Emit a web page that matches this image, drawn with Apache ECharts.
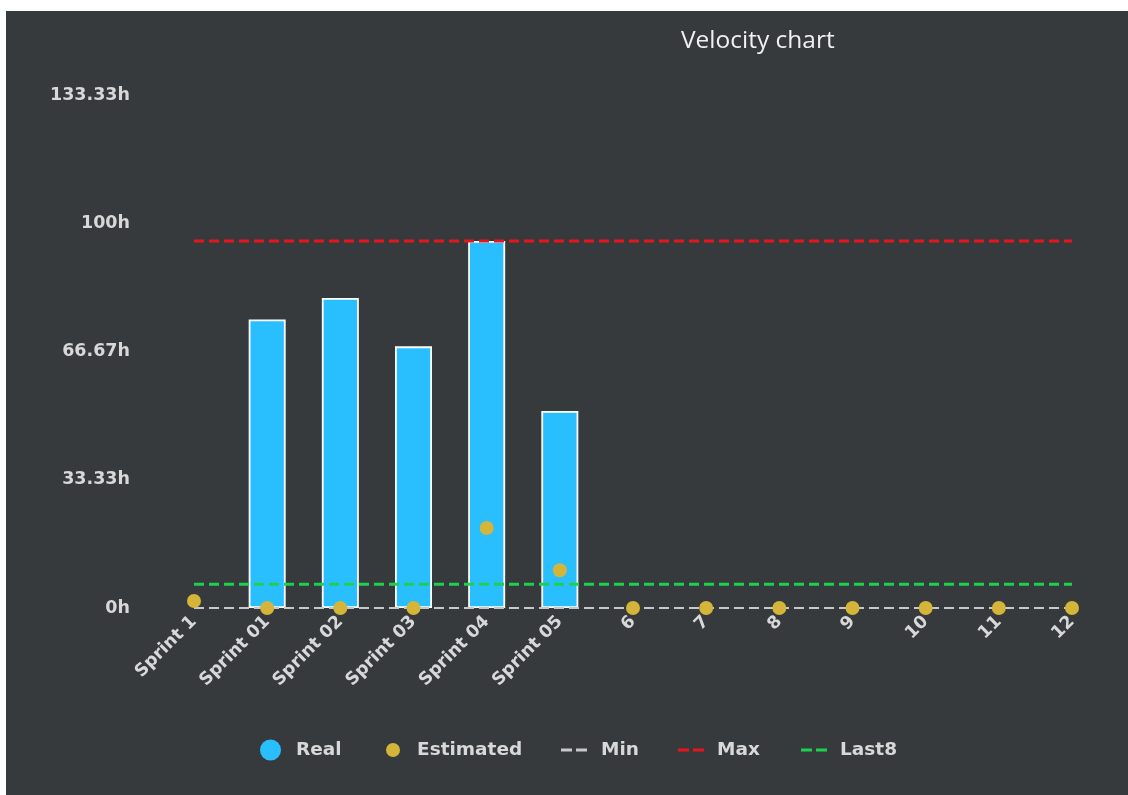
<!DOCTYPE html>
<html>
<head>
<meta charset="utf-8">
<script src="https://cdn.jsdelivr.net/npm/echarts@6/dist/echarts.min.js"></script>
<style>
  html, body { margin: 0; padding: 0; background: #ffffff; }
  #chart { position: absolute; left: 6px; top: 11px; width: 1122px; height: 784px; background: #363a3d; }
</style>
</head>
<body>
<div id="chart"></div>
<script>
const categories = ['Sprint 1', 'Sprint 01', 'Sprint 02', 'Sprint 03', 'Sprint 04', 'Sprint 05', '6', '7', '8', '9', '10', '11', '12'];
const realValues = [null, 75.0, 80.6, 68.0, 95.4, 51.2, null, null, null, null, null, null, null];
const estimatedValues = [1.8, 0, 0, 0, 20.8, 9.8, 0, 0, 0, 0, 0, 0, 0];
const minValue = 0;
const maxValue = 95.4;
const last8Value = 6.2;
const yTickLabels = ['0h', '33.33h', '66.67h', '100h', '133.33h'];
const yStep = 100 / 3;

const axisFont = { color: '#d8d8d8', fontFamily: 'DejaVu Sans', fontWeight: 'bold', fontSize: 17.5 };
const legendFont = { color: '#d8d8d8', fontFamily: 'DejaVu Sans', fontWeight: 'bold', fontSize: 18.5, lineHeight: 22 };
const dashIcon = 'path://M0,0h11v3h-11z M15,0h11v3h-11z';

function legendAt(name, left, extra, pad) {
  return Object.assign({
    data: [name], left: left, top: 728, padding: 0, selectedMode: false,
    textStyle: Object.assign({}, legendFont, { padding: [0, 0, 0, pad] })
  }, extra);
}

const chart = echarts.init(document.getElementById('chart'), null, { renderer: 'canvas' });
chart.setOption({
  backgroundColor: '#363a3d',
  animation: false,
  title: {
    text: 'Velocity chart', left: 670, top: 13,
    textStyle: { color: '#f0f0f0', fontFamily: 'Open Sans', fontWeight: 'normal', fontSize: 24.5 }
  },
  legend: [
    legendAt('Real', 254, { icon: 'circle', itemWidth: 21, itemHeight: 21, itemStyle: { borderWidth: 0 } }, 10),
    legendAt('Estimated', 380, { icon: 'circle', itemWidth: 14, itemHeight: 14, itemStyle: { borderWidth: 0 } }, 12),
    legendAt('Min', 555, { icon: dashIcon, itemWidth: 26, itemHeight: 3, itemStyle: { borderWidth: 0 } }, 9),
    legendAt('Max', 672, { icon: dashIcon, itemWidth: 26, itemHeight: 3, itemStyle: { borderWidth: 0 } }, 8),
    legendAt('Last8', 795, { icon: dashIcon, itemWidth: 26, itemHeight: 3, itemStyle: { borderWidth: 0 } }, 8)
  ],
  grid: { left: 188, right: 56, top: 84, bottom: 187 },
  xAxis: {
    type: 'category', data: categories, boundaryGap: false,
    axisLine: { show: false }, axisTick: { show: false }, splitLine: { show: false },
    axisLabel: Object.assign({ rotate: 45, margin: 11, interval: 0 }, axisFont)
  },
  yAxis: {
    type: 'value', min: 0, max: yStep * 4, interval: yStep,
    axisLine: { show: false }, axisTick: { show: false }, splitLine: { show: false },
    axisLabel: Object.assign({
      margin: 64,
      formatter: function (v) { return yTickLabels[Math.round(v / yStep)]; }
    }, axisFont)
  },
  series: [
    {
      name: 'Real', type: 'bar', data: realValues, barWidth: 37, z: 2,
      itemStyle: { color: '#29bffe', borderColor: '#ffffff', borderWidth: 1.8 }
    },
    {
      name: 'Min', type: 'line', data: categories.map(() => minValue), symbol: 'none', z: 3,
      itemStyle: { color: '#c8c8c8' },
      lineStyle: { color: '#c8c8c8', width: 2, type: [10, 5] }
    },
    {
      name: 'Max', type: 'line', data: categories.map(() => maxValue), symbol: 'none', z: 3,
      itemStyle: { color: '#e8141a' },
      lineStyle: { color: '#e8141a', width: 3, type: [10, 5] }
    },
    {
      name: 'Last8', type: 'line', data: categories.map(() => last8Value), symbol: 'none', z: 3,
      itemStyle: { color: '#1ed14b' },
      lineStyle: { color: '#1ed14b', width: 3, type: [10, 5] }
    },
    {
      name: 'Estimated', type: 'scatter', data: estimatedValues, symbolSize: 14, z: 5,
      itemStyle: { color: '#d4b53a', opacity: 1 }
    }
  ]
});
</script>
</body>
</html>
